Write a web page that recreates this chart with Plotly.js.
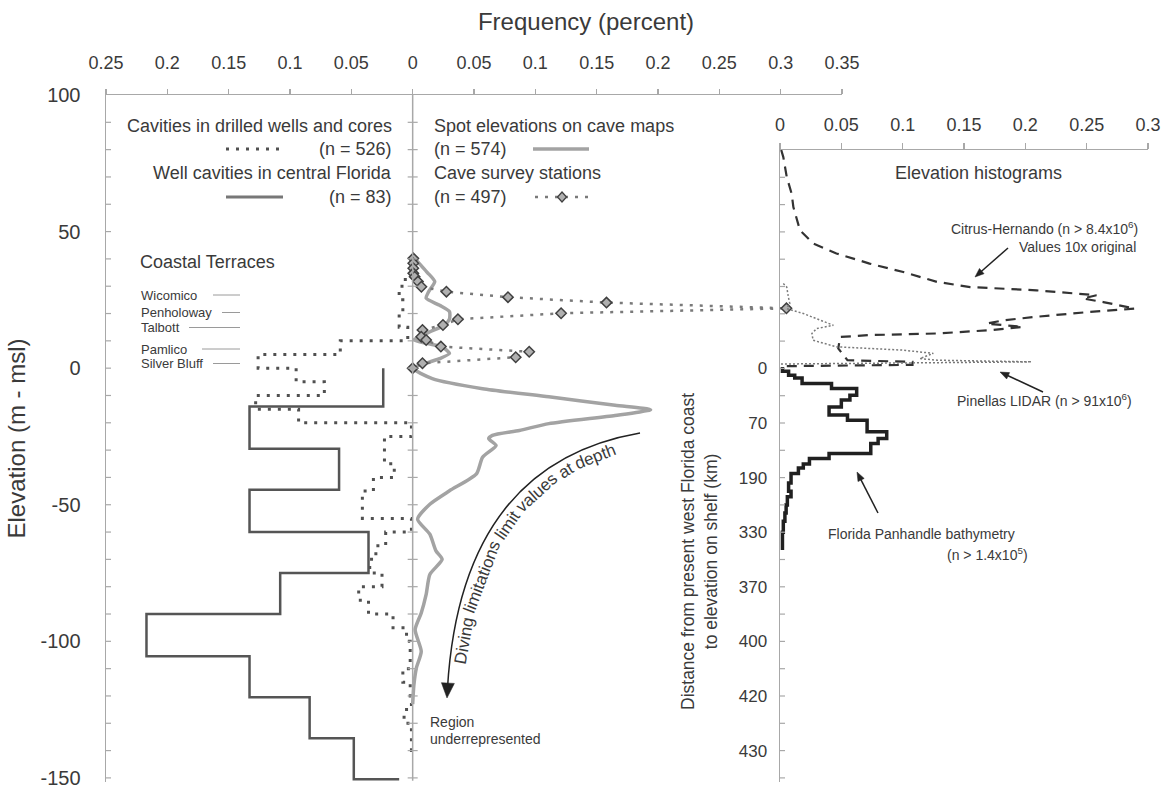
<!DOCTYPE html>
<html><head><meta charset="utf-8">
<script src="https://cdn.plot.ly/plotly-3.0.1.min.js"></script>
<style>html,body{margin:0;padding:0;background:#fff;}#chart{width:1164px;height:791px;}</style>
</head><body><div id="chart"></div>
<script>
// ---------------- DATA ----------------
const topTickVals = [-0.25,-0.2,-0.15,-0.1,-0.05,0,0.05,0.1,0.15,0.2,0.25,0.3,0.35];
const topTickText = ['0.25','0.2','0.15','0.1','0.05','0','0.05','0.1','0.15','0.2','0.25','0.3','0.35'];
const elevTickVals = [100,50,0,-50,-100,-150];
const elevTickText = ['100','50','0','-50','-100','-150'];
const histTickVals = [0,0.05,0.1,0.15,0.2,0.25,0.3];
const histTickText = ['0','0.05','0.1','0.15','0.2','0.25','0.3'];
const shelfTickElev = [0,-20,-40,-60,-80,-100,-120,-140];
const shelfTickKm = ['0','70','190','330','370','400','420','430'];

// Cavities in drilled wells and cores (n = 526): bin top elevation (m) and frequency
const drilledElev = [33,30,25,20,15,10,5,0,-5,-10,-15,-20,-25,-35,-40,-45,-55,-60,-65,-70,-75,-80,-85,-90,-95,-100,-105,-110,-115,-120,-125,-130,-140];
const drilledFreq = [0.006,0.011,0.008,0.011,0.004,0.059,0.126,0.095,0.072,0.128,0.093,0.001,0.023,0.015,0.032,0.041,0.001,0.022,0.030,0.035,0.025,0.044,0.036,0.016,0.005,0.002,0.002,0.008,0.002,0.001,0.007,0.001,0];

// Well cavities in central Florida (n = 83)
const wellElev = [0,-14,-29.5,-44.5,-60,-75,-90,-105.5,-120.5,-135.5,-150.5];
const wellFreq = [0.024,0.133,0.060,0.133,0.036,0.108,0.217,0.133,0.084,0.048,0.011];

// Spot elevations on cave maps (n = 574)
const spotElev = [41,38,35,31.7,28,25.6,23,20.7,18,15.8,13.5,11.5,10.4,9,7.8,5.4,3.5,2.3,0,-3.8,-7.5,-10.5,-13.6,-15.2,-17.3,-20.3,-22.8,-24.6,-25.8,-28.3,-32.6,-38.7,-44.9,-49.8,-55.3,-60.8,-66.9,-70,-75.5,-82.8,-89.6,-95.7,-103.7,-109.8,-116,-123];
const spotFreq = [0,0.006,0.012,0.018,0.013,0.011,0.022,0.030,0.030,0.026,0.015,0.006,0.001,0.012,0.024,0.030,0.022,0.014,0,0.016,0.057,0.111,0.165,0.194,0.165,0.111,0.087,0.065,0.062,0.068,0.057,0.052,0.030,0.014,0.004,0.014,0.019,0.024,0.014,0.011,0.007,0.002,0.007,0.003,0.001,0];

// Cave survey stations (n = 497)
const surveyElev = [40.2,38.4,36.6,34.7,33.5,31.7,29.8,28,26,24,21.9,20.1,17.9,15.8,14,11.5,10.3,7.9,6.0,4.0,1.8,0];
const surveyFreq = [0.0005,0.0005,0.0005,0.0005,0.0016,0.0043,0.0071,0.0275,0.0777,0.158,0.3047,0.121,0.0369,0.0247,0.008,0.007,0.011,0.023,0.095,0.084,0.008,0];

// Citrus-Hernando elevation histogram (values 10x original)
const citrusElev = [80,77.4,70.1,64,59.1,50.6,45.7,42.1,38.4,35.3,31.7,29.8,28.6,27.6,26.8,25.6,24.3,21.9,20.7,18.9,17.6,16.4,15.2,14,12.8,12.2,11.5,7.3,3.0,2.4,1.3,0.8];
const citrusFreq = [0.001,0.0027,0.0055,0.0095,0.0109,0.0163,0.0272,0.046,0.073,0.1005,0.128,0.155,0.209,0.236,0.258,0.247,0.2636,0.2894,0.2527,0.209,0.182,0.1685,0.198,0.171,0.128,0.073,0.049,0.0475,0.055,0.108,0.108,0];

// Pinellas LIDAR elevation histogram
const pinElev = [31.1,29.8,26.2,23.7,21.9,20.1,15.8,14.6,12.8,10.3,7.9,7.3,6.7,5.5,3.6,3.0,2.4,1.6];
const pinFreq = [0.0027,0.0055,0.0068,0.008,0.0055,0.019,0.0435,0.030,0.026,0.027,0.046,0.073,0.100,0.125,0.114,0.128,0.205,0];

// Florida Panhandle bathymetry (bin top elevation, frequency)
const bathyElev = [0.5,-1,-2.5,-3.5,-5.5,-7.4,-9.8,-11.6,-14.1,-17.1,-19,-23.2,-25.7,-27.5,-31.2,-33,-35,-36.5,-38.5,-42,-45,-47,-50,-53,-56,-60,-66.5];
const bathyFreq = [0.002,0.007,0.012,0.018,0.042,0.0625,0.057,0.050,0.040,0.055,0.071,0.087,0.080,0.074,0.040,0.024,0.019,0.015,0.009,0.007,0.009,0.006,0.005,0.004,0.0027,0.002,0.002];

// ---------------- GEOMETRY / STYLE ----------------
const W=1164, H=791, L=106, R=1148, T=95, B=782;
const px = v => (v-L)/(R-L);
const py = v => (B-v)/(B-T);
const axisColor = '#a8a8a8';
const textColor = '#3a3a3a';
const FONT = 'Liberation Sans, Arial, sans-serif';

const traces = [
  {name:'Cavities in drilled wells and cores', x: drilledFreq.map(v=>-v), y: drilledElev, xaxis:'x', yaxis:'y', mode:'lines',
   line:{shape:'vh', dash:'3px,7px', width:3, color:'#505050'}},
  {name:'Well cavities in central Florida', x: wellFreq.map(v=>-v), y: wellElev, xaxis:'x', yaxis:'y', mode:'lines',
   line:{shape:'vh', width:2.5, color:'#555555'}},
  {name:'Spot elevations on cave maps', x: spotFreq, y: spotElev, xaxis:'x', yaxis:'y', mode:'lines',
   line:{shape:'spline', smoothing:0.6, width:3.5, color:'#a3a3a3'}},
  {name:'Citrus-Hernando', x: citrusFreq, y: citrusElev, xaxis:'x2', yaxis:'y2', mode:'lines',
   line:{dash:'10px,7px', width:2.2, color:'#333333'}},
  {name:'Pinellas LIDAR', x: pinFreq, y: pinElev, xaxis:'x2', yaxis:'y2', mode:'lines',
   line:{dash:'2px,2px', width:1.5, color:'#7a7a7a'}},
  {name:'Florida Panhandle bathymetry', x: bathyFreq, y: bathyElev, xaxis:'x2', yaxis:'y2', mode:'lines',
   line:{shape:'vh', width:3.5, color:'#202020'}},
  {name:'Cave survey stations', x: surveyFreq, y: surveyElev, xaxis:'x', yaxis:'y', mode:'lines+markers',
   line:{dash:'3px,7px', width:2.5, color:'#7a7a7a'},
   marker:{symbol:'diamond', size:8, color:'#b0b0b0', line:{color:'#404040', width:1.5}}}
];

// ---------------- SHAPES ----------------
const shapes = [];
shapes.push({type:'line', xref:'x', yref:'y', x0:0, x1:0, y0:-151, y1:100, line:{color:axisColor, width:1.5}});
function crossTick(xref, yref, xa, e){
  shapes.push({type:'line', xref:xref, yref:yref, xsizemode:'pixel', xanchor:xa, x0:-5, x1:5, y0:e, y1:e,
    line:{color:axisColor, width:1.2}});
}
for (let e=-150; e<100; e+=10){ crossTick('x','y',-0.25,e); crossTick('x','y',0,e); }
for (let e=-150; e<80; e+=10){ crossTick('x2','y2',0,e); }

function pline(x0,y0,x1,y1,color,width,dash){
  shapes.push({type:'line', xref:'paper', yref:'paper', x0:px(x0), y0:py(y0), x1:px(x1), y1:py(y1),
    line:{color:color, width:width, dash:dash||'solid'}});
}
function head(tipx, tipy, ux, uy, len, wid, color){
  // ux,uy: unit direction of travel (screen px)
  const bx=tipx-ux*len, by=tipy-uy*len, nx=-uy, ny=ux;
  shapes.push({type:'path', xref:'paper', yref:'paper',
    path:`M ${px(tipx)},${py(tipy)} L ${px(bx+nx*wid/2)},${py(by+ny*wid/2)} L ${px(bx-nx*wid/2)},${py(by-ny*wid/2)} Z`,
    fillcolor:color, line:{color:color, width:0.5}});
}
function arrowShape(tipx, tipy, tailx, taily){
  const dx=tipx-tailx, dy=tipy-taily, d=Math.hypot(dx,dy), ux=dx/d, uy=dy/d;
  pline(tailx, taily, tipx-ux*6, tipy-uy*6, '#222', 1.5);
  head(tipx, tipy, ux, uy, 9, 7, '#222');
}
// legend samples
pline(226,149,283,149,'#505050',3,'3px,7px');
pline(226,197,283,197,'#777777',3);
pline(533,149,589,149,'#a3a3a3',3.5);
pline(535,197,590,197,'#7a7a7a',2.5,'3px,7px');
shapes.push({type:'path', xref:'paper', yref:'paper', xsizemode:'pixel', ysizemode:'pixel',
  xanchor:px(562), yanchor:py(197), path:'M0,5 L4.5,0 L0,-5 L-4.5,0 Z', fillcolor:'#b0b0b0', line:{color:'#404040', width:1.3}});

// terrace leader lines
const terraces = [['Wicomico',295,213],['Penholoway',312.5,222],['Talbott',327.5,189],['Pamlico',349,202],['Silver Bluff',363.5,213]];
terraces.forEach(t => pline(t[2], t[1], 240, t[1], '#9a9a9a', 1));

// curved arrow (diving limitations)
const A0=[640,433], AC=[461,464], A2=[447,698];
shapes.push({type:'path', xref:'paper', yref:'paper',
  path:`M ${px(A0[0])},${py(A0[1])} Q ${px(AC[0])},${py(AC[1])} ${px(A2[0]+0.5)},${py(A2[1]-10)}`,
  line:{color:'#222', width:1.5}});
(function(){ const dx=A2[0]-AC[0], dy=A2[1]-AC[1], d=Math.hypot(dx,dy); head(A2[0], A2[1], dx/d, dy/d, 15, 13, '#222'); })();

// straight arrows
arrowShape(975, 277, 1008, 248);
arrowShape(1000, 372, 1043, 392);
arrowShape(857, 472, 878, 513);

// ---------------- ANNOTATIONS ----------------
const ann = [];
function txt(text, x, y, opts){
  ann.push(Object.assign({text:text, xref:'paper', yref:'paper', x:px(x), y:py(y), showarrow:false,
    xanchor:'left', yanchor:'middle', font:{size:18, color:textColor}}, opts||{}));
}
txt('Cavities in drilled wells and cores', 394, 126, {xanchor:'right'});
txt('(n = 526)', 394, 149, {xanchor:'right'});
txt('Well cavities in central Florida', 394, 173, {xanchor:'right'});
txt('(n = 83)', 394, 197, {xanchor:'right'});
txt('Spot elevations on cave maps', 432, 126);
txt('(n = 574)', 432, 149);
txt('Cave survey stations', 432, 173);
txt('(n = 497)', 432, 197);
txt('Elevation histograms', 978, 173, {xanchor:'center'});
txt('Coastal Terraces', 138, 262);
terraces.forEach(t => txt(t[0], 139, t[1], {font:{size:13, color:textColor}}));
txt('Citrus-Hernando (n &gt; 8.4x10<sup>6</sup>)', 1140, 228, {xanchor:'right', font:{size:14, color:textColor}});
txt('Values 10x original', 1138, 247, {xanchor:'right', font:{size:14, color:textColor}});
txt('Pinellas LIDAR (n &gt; 91x10<sup>6</sup>)', 955, 400, {font:{size:14, color:textColor}});
txt('Florida Panhandle bathymetry', 826, 534, {font:{size:14, color:textColor}});
txt('(n &gt; 1.4x10<sup>5</sup>)', 1030, 554, {xanchor:'right', font:{size:14, color:textColor}});
txt('Region', 428, 722, {font:{size:14, color:textColor}});
txt('underrepresented', 428, 739, {font:{size:14, color:textColor}});
txt('Distance from present west Florida coast<br>to elevation on shelf (km)', 699, 552,
  {xanchor:'center', textangle:-90, font:{size:17.5, color:textColor}});

// curved text along (offset) arc
(function(){
  function bez(t){const u=1-t;return [u*u*A0[0]+2*u*t*AC[0]+t*t*A2[0], u*u*A0[1]+2*u*t*AC[1]+t*t*A2[1]];}
  function der(t){return [2*(1-t)*(AC[0]-A0[0])+2*t*(A2[0]-AC[0]), 2*(1-t)*(AC[1]-A0[1])+2*t*(A2[1]-AC[1])];}
  const o=11, N=800, pts=[]; let s=0, prev=null;
  for(let i=0;i<=N;i++){
    const t=1-i/N, p=bez(t), d=der(t), dl=Math.hypot(d[0],d[1]);
    const rx=-d[0]/dl, ry=-d[1]/dl;        // reading direction (towards t=0)
    const q=[p[0]+(-ry)*o, p[1]+rx*o];     // offset to lower-right side
    if(prev) s+=Math.hypot(q[0]-prev[0], q[1]-prev[1]);
    pts.push({q:q, s:s, rx:rx, ry:ry}); prev=q;
  }
  function atLen(len){
    for(let i=1;i<pts.length;i++){ if(pts[i].s>=len){ const a=pts[i-1], b=pts[i]; const f=(len-a.s)/(b.s-a.s);
      return {x:a.q[0]+f*(b.q[0]-a.q[0]), y:a.q[1]+f*(b.q[1]-a.q[1]), rx:b.rx, ry:b.ry}; } }
    const b=pts[pts.length-1]; return {x:b.q[0], y:b.q[1], rx:b.rx, ry:b.ry};
  }
  const fs=17; const ctx=document.createElement('canvas').getContext('2d'); ctx.font=fs+'px "Liberation Sans"';
  const full='Diving limitations limit values at depth';
  const words=full.split(' ');
  const Wt=ctx.measureText(full).width;
  const total=pts[pts.length-1].s;
  const s0=Math.max(22, (total-Wt)/2+4);
  let prefix='';
  words.forEach(w=>{
    const off=ctx.measureText(prefix).width + ctx.measureText(w).width/2;
    const q=atLen(s0+off);
    ann.push({text:w, xref:'paper', yref:'paper', x:px(q.x), y:py(q.y), showarrow:false,
      xanchor:'center', yanchor:'middle', textangle:Math.atan2(q.ry,q.rx)*180/Math.PI, font:{size:fs, color:textColor}});
    prefix += w + ' ';
  });
})();

// ---------------- LAYOUT ----------------
const layout = {
  width:W, height:H, margin:{l:L, r:W-R, t:T, b:H-B, pad:0},
  paper_bgcolor:'#ffffff', plot_bgcolor:'rgba(0,0,0,0)',
  font:{family:FONT, color:textColor, size:16},
  showlegend:false, hovermode:false,
  title:{text:'Frequency (percent)', font:{size:24, color:textColor}, x:586/W, xref:'container', xanchor:'center',
    y:1-22/H, yref:'container', yanchor:'middle'},
  xaxis:{domain:[0, px(842)], range:[-0.25,0.35], side:'top', anchor:'y', tickvals:topTickVals, ticktext:topTickText,
    ticks:'outside', ticklen:5, tickwidth:1.2, tickcolor:axisColor, showline:true, linecolor:axisColor, linewidth:1.5,
    showgrid:false, zeroline:false, tickfont:{size:18, color:textColor}, ticklabelstandoff:12},
  yaxis:{domain:[0,1], range:[-151.5,100], anchor:'x', side:'left', tickvals:elevTickVals, ticktext:elevTickText,
    ticks:'', showline:true, linecolor:axisColor, linewidth:1.5, showgrid:false, zeroline:false,
    tickfont:{size:20, color:textColor}, ticklabelstandoff:20,
    title:{text:'Elevation (m - msl)', font:{size:24, color:textColor}, standoff:8}},
  xaxis2:{domain:[px(780),1], range:[0,0.3], side:'top', anchor:'y2', tickvals:histTickVals, ticktext:histTickText,
    ticks:'outside', ticklen:6, tickwidth:1.2, tickcolor:axisColor, showline:true, linecolor:axisColor, linewidth:1.5,
    showgrid:false, zeroline:false, tickfont:{size:18, color:textColor}, ticklabelstandoff:4},
  yaxis2:{domain:[0, (B-150)/(B-T)], range:[-151.5,80], anchor:'x2', side:'left', tickvals:shelfTickElev, ticktext:shelfTickKm,
    ticks:'', showline:true, linecolor:axisColor, linewidth:1.5, showgrid:false, zeroline:false,
    tickfont:{size:17, color:textColor}, ticklabelstandoff:8},
  shapes:shapes, annotations:ann
};

Plotly.newPlot('chart', traces, layout, {staticPlot:true, displayModeBar:false});
</script>
</body></html>
